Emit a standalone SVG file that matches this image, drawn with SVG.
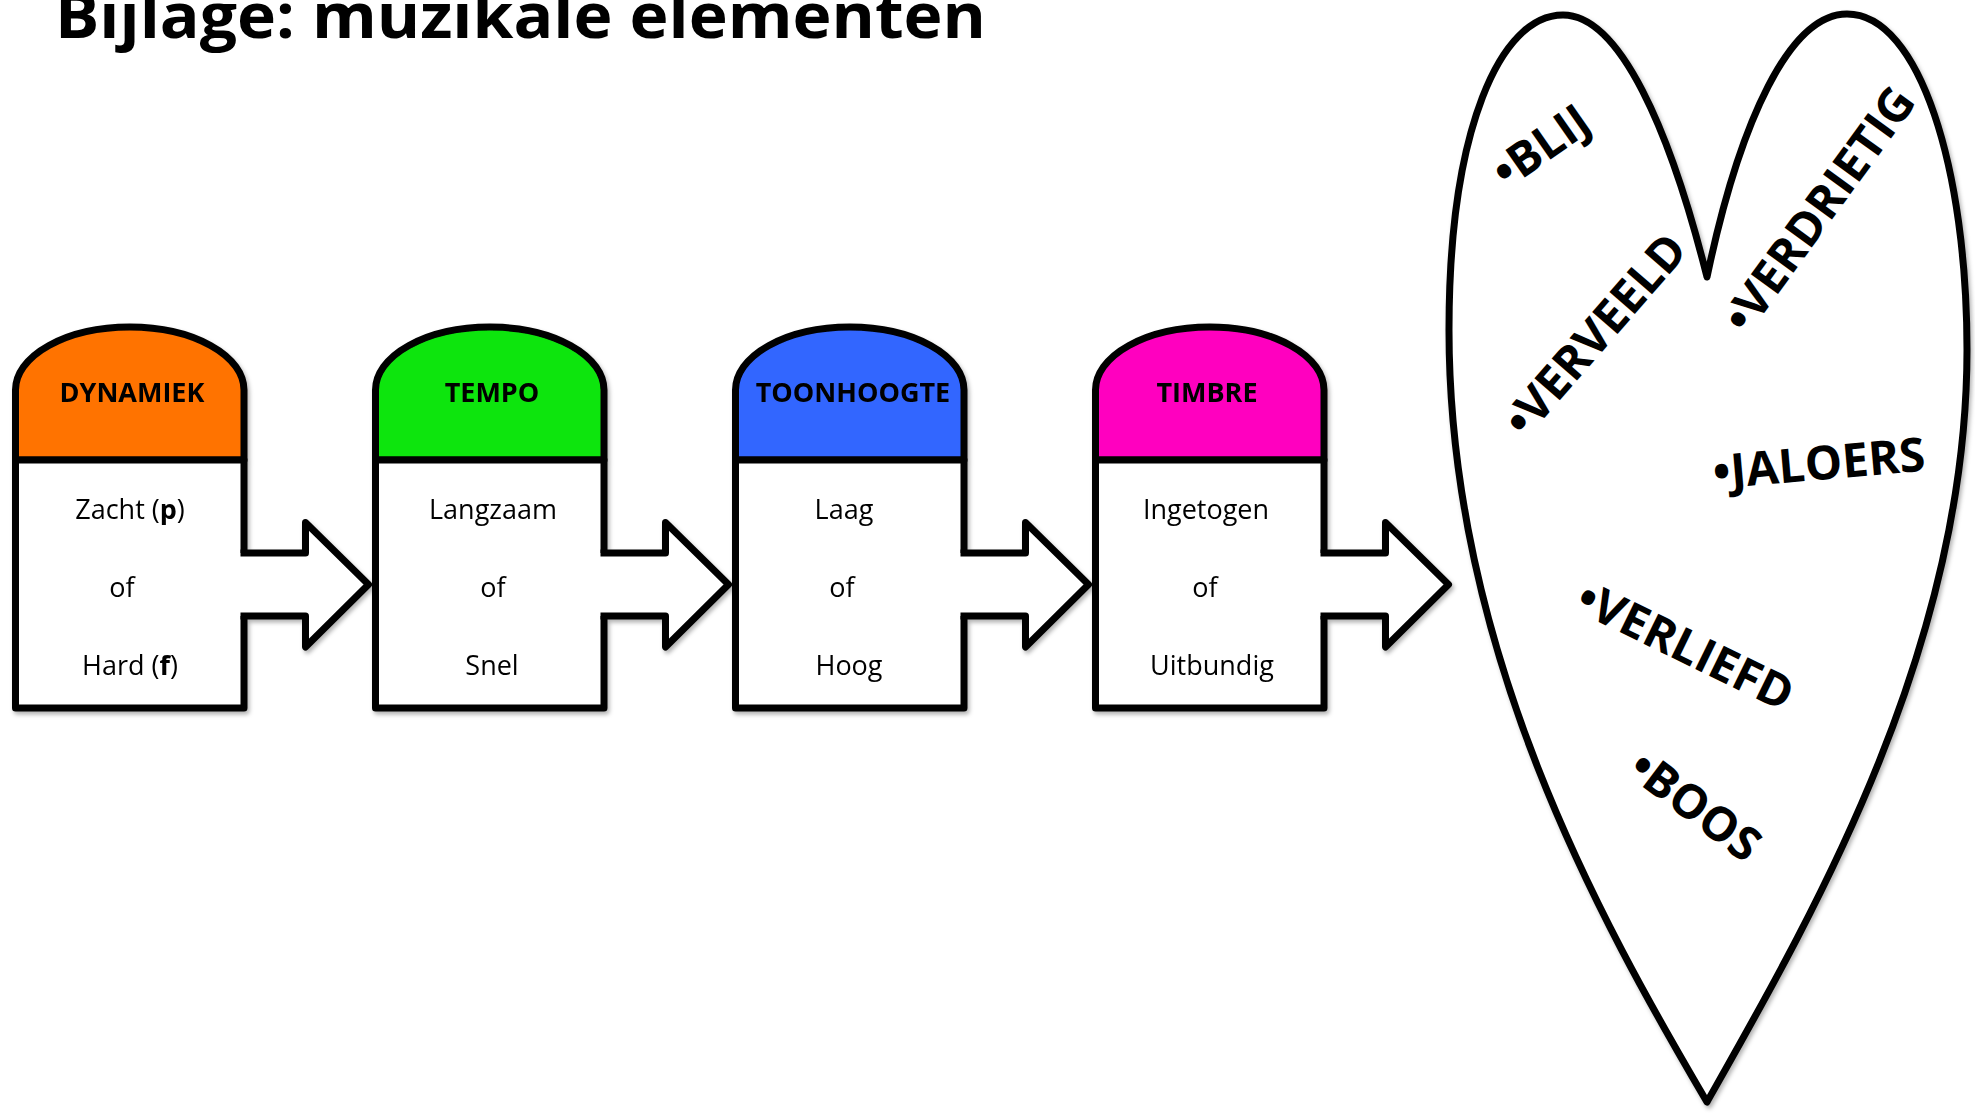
<svg xmlns="http://www.w3.org/2000/svg" width="1975" height="1116" viewBox="0 0 1975 1116">
<defs>
<filter id="sh" x="-5%" y="-5%" width="110%" height="110%">
<feDropShadow dx="2" dy="3" stdDeviation="2" flood-color="#000" flood-opacity="0.3"/>
</filter>
<style>
.ol{stroke:#000;stroke-width:7;stroke-linejoin:round;}
.hd{font-family:"Open Sans","Liberation Sans",sans-serif;font-weight:bold;font-size:27px;text-anchor:middle;fill:#000;}
.bd{font-family:"Open Sans","Liberation Sans",sans-serif;font-size:27px;text-anchor:middle;fill:#000;}
.ht{font-family:"Open Sans","Liberation Sans",sans-serif;font-weight:bold;font-size:47px;fill:#000;}
.af{fill:#fff;stroke:none;}
.as{fill:none;stroke:#000;stroke-width:7;stroke-linejoin:round;stroke-linecap:butt;}
</style>
</defs>
<rect width="1975" height="1116" fill="#fff"/>
<text x="55" y="38" font-family="'Open Sans','Liberation Sans',sans-serif" font-weight="bold" font-size="63" textLength="931" lengthAdjust="spacingAndGlyphs">Bijlage: muzikale elementen</text>
<g filter="url(#sh)">
<g id="node-dynamiek">
<path class="ol" fill="#FF7300" d="M15.5,460 V390 A114.25,63 0 0 1 244,390 V460 Z"/>
<rect class="ol" fill="#fff" x="15.5" y="460" width="228.5" height="248"/>
<text class="hd" x="132" y="402">DYNAMIEK</text>
<text class="bd" x="130" y="519">Zacht (<tspan font-weight="bold">p</tspan>)</text>
<text class="bd" x="122" y="597">of</text>
<text class="bd" x="130" y="675">Hard (<tspan font-weight="bold">f</tspan>)</text>
</g>
<g id="node-tempo">
<path class="ol" fill="#10E510" d="M375.5,460 V390 A114.25,63 0 0 1 604,390 V460 Z"/>
<rect class="ol" fill="#fff" x="375.5" y="460" width="228.5" height="248"/>
<text class="hd" x="492" y="402">TEMPO</text>
<text class="bd" x="493" y="519">Langzaam</text>
<text class="bd" x="493" y="597">of</text>
<text class="bd" x="492" y="675">Snel</text>
</g>
<g id="node-toonhoogte">
<path class="ol" fill="#3366FF" d="M735.5,460 V390 A114.25,63 0 0 1 964,390 V460 Z"/>
<rect class="ol" fill="#fff" x="735.5" y="460" width="228.5" height="248"/>
<text class="hd" x="853" y="402">TOONHOOGTE</text>
<text class="bd" x="844" y="519">Laag</text>
<text class="bd" x="842" y="597">of</text>
<text class="bd" x="849" y="675">Hoog</text>
</g>
<g id="node-timbre">
<path class="ol" fill="#FF00BF" d="M1095.5,460 V390 A114.25,63 0 0 1 1324,390 V460 Z"/>
<rect class="ol" fill="#fff" x="1095.5" y="460" width="228.5" height="248"/>
<text class="hd" x="1207" y="402">TIMBRE</text>
<text class="bd" x="1206" y="519">Ingetogen</text>
<text class="bd" x="1205" y="597">of</text>
<text class="bd" x="1212" y="675">Uitbundig</text>
</g>
<g id="connectors">
<path class="af" d="M238,553 H305.5 V522.5 L368.5,584.5 L305.5,647 V616 H238 Z"/>
<path class="as" d="M240.5,553 H305.5 V522.5 L368.5,584.5 L305.5,647 V616 H240.5"/>
<path class="af" d="M598,553 H665.5 V522.5 L728.5,584.5 L665.5,647 V616 H598 Z"/>
<path class="as" d="M600.5,553 H665.5 V522.5 L728.5,584.5 L665.5,647 V616 H600.5"/>
<path class="af" d="M958,553 H1025.5 V522.5 L1088.5,584.5 L1025.5,647 V616 H958 Z"/>
<path class="as" d="M960.5,553 H1025.5 V522.5 L1088.5,584.5 L1025.5,647 V616 H960.5"/>
<path class="af" d="M1318,553 H1385.5 V522.5 L1448.5,584.5 L1385.5,647 V616 H1318 Z"/>
<path class="as" d="M1320.5,553 H1385.5 V522.5 L1448.5,584.5 L1385.5,647 V616 H1320.5"/>
</g>
<g id="heart">
<path class="ol" fill="#fff" d="M1707,1102 C1600,920 1449,650 1449,330 C1449,130 1500,15 1563,15 C1620,15 1670,130 1707,277 C1740,120 1790,14 1847,14 C1920,14 1967,170 1967,350 C1967,650 1810,920 1707,1102 Z"/>
</g>
</g>
<g id="heart-labels">
<text class="ht" transform="translate(1508,171) rotate(-35)" x="-12" y="15">•BLIJ</text>
<text class="ht" transform="translate(1522,421) rotate(-49)" x="-12" y="15">•VERVEELD</text>
<text class="ht" transform="translate(1742,318) rotate(-54)" x="-12" y="15">•VERDRIETIG</text>
<text class="ht" transform="translate(1725,473) rotate(-5)" x="-12" y="15">•JALOERS</text>
<text class="ht" transform="translate(1590,601) rotate(26)" x="-12" y="15">•VERLIEFD</text>
<text class="ht" transform="translate(1644,769) rotate(37)" x="-12" y="15">•BOOS</text>
</g>
</svg>
